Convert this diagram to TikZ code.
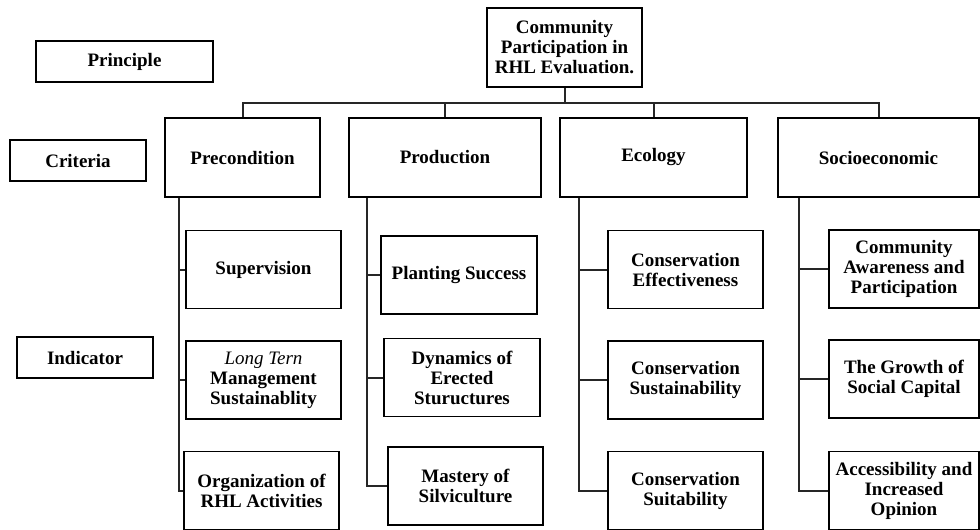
\documentclass[tikz,border=0pt]{standalone}
\usepackage{fontspec}
\setmainfont{Liberation Serif}

\tikzset{
  box/.style={draw, line width=1.6pt, inner sep=0pt, align=center, font=\bfseries\fontsize{19}{20}\selectfont},
  crit/.style={box, minimum height=79},
  ind/.style={box, minimum width=155, minimum height=78},
  link/.style={draw=black!85, line width=2pt},
}

\begin{document}
\begin{tikzpicture}[x=1pt,y=1pt]
        \useasboundingbox (0,0) rectangle (980,-530);
        \node[box, minimum width=177, minimum height=41] (principle) at (124.5,-61.5) {Principle};
        \node[box, minimum width=136, minimum height=41] (criteria) at (78,-160.5) {Criteria};
        \node[box, minimum width=136, minimum height=41] (indicator) at (85,-357.5) {Indicator};
        \node[crit, minimum width=155] (root) at (564.5,-47.5) {Community\\Participation in\\RHL Evaluation.};
        \node[crit, minimum width=155] (precond) at (242.5,-157.5) {Precondition};
        \node[crit, minimum width=192] (prod) at (445,-157.5) {Production};
        \node[crit, minimum width=187] (eco) at (653.5,-157.5) {\strut Ecology};
        \node[crit, minimum width=201] (socio) at (878.5,-157.5) {Socioeconomic};
        \node[ind] (sup) at (263.5,-269.5) {Supervision};
        \node[ind] (ltm) at (263.5,-380) {{\mdseries\itshape Long Tern}\\Management\\Sustainablity};
        \node[ind] (org) at (261.5,-490.5) {Organization of\\RHL Activities};
        \node[ind, minimum width=156] (plant) at (459,-275) {Planting Success};
        \node[ind, minimum width=156] (dyn) at (462,-377.5) {Dynamics of\\Erected\\Stuructures};
        \node[ind] (mast) at (465.5,-486) {Mastery of\\Silviculture};
        \node[ind] (ceff) at (685.5,-269.5) {Conservation\\Effectiveness};
        \node[ind] (csus) at (685.5,-380) {Conservation\\Sustainability};
        \node[ind] (csuit) at (685.5,-490.5) {Conservation\\Suitability};
        \node[ind, minimum width=150] (caware) at (904,-269) {Community\\Awareness and\\Participation};
        \node[ind, minimum width=150] (growth) at (904,-379) {The Growth of\\Social Capital};
        \node[ind, minimum width=150] (access) at (904,-490.5) {Accessibility and\\Increased\\Opinion};
        \coordinate (bus) at (564.5,-103);
        \draw[link] (root.south) -- (bus);
        \draw[link] (precond.north) |- (bus) -| (socio.north);
        \draw[link] (prod.north) -- (prod.north |- bus);
        \draw[link] (eco.north) -- (eco.north |- bus);
        \coordinate (tpre) at ([xshift=15]precond.south west);
        \coordinate (tprod) at ([xshift=19]prod.south west);
        \coordinate (teco) at ([xshift=20]eco.south west);
        \coordinate (tsocio) at ([xshift=22]socio.south west);
        \draw[link] (tpre) |- (org.west);
        \draw[link] (sup.west) -- (sup.west -| tpre);
        \draw[link] (ltm.west) -- (ltm.west -| tpre);
        \draw[link] (tprod) |- (mast.west);
        \draw[link] (plant.west) -- (plant.west -| tprod);
        \draw[link] (dyn.west) -- (dyn.west -| tprod);
        \draw[link] (teco) |- (csuit.west);
        \draw[link] (ceff.west) -- (ceff.west -| teco);
        \draw[link] (csus.west) -- (csus.west -| teco);
        \draw[link] (tsocio) |- (access.west);
        \draw[link] (caware.west) -- (caware.west -| tsocio);
        \draw[link] (growth.west) -- (growth.west -| tsocio);
\end{tikzpicture}
\end{document}
